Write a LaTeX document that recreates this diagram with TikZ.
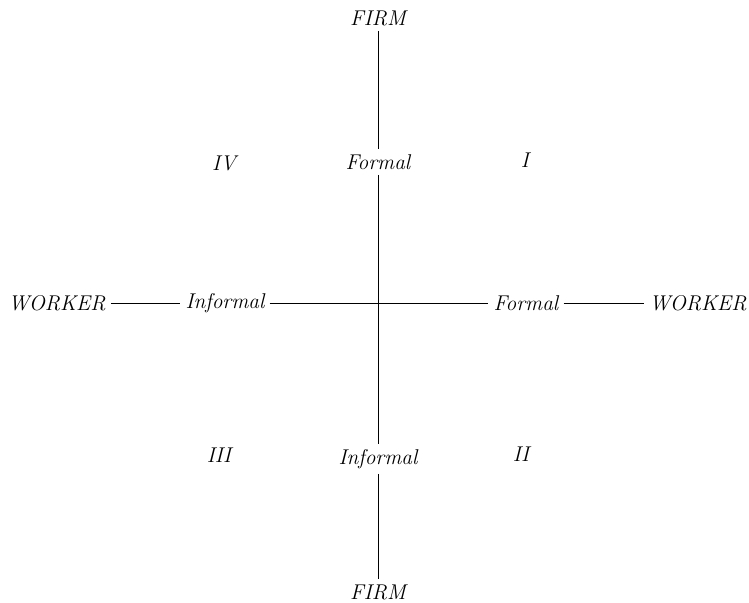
\documentclass[tikz,border=0pt]{standalone}
\usepackage{tikz}
\usetikzlibrary{positioning}
\tikzset
{
    axislabel/.style={font=\fontsize{11}{13}\selectfont\itshape, inner sep=2.5pt}, % labels on the axes
    quadrant/.style={font=\fontsize{11}{13}\selectfont\itshape}, % roman numerals of the quadrants
    axisline/.style={thin, black},
}

\begin{document}
\begin{tikzpicture}[x=0.515pt, y=-0.515pt]
    \useasboundingbox (0,0) rectangle (749,602);
    % Nodes
    \node[axislabel] (firmtop) at (378,18) {FIRM};
    \node[axislabel] (firmbot) at (378,592) {FIRM};
    \node[axislabel] (ftop) at (378,162) {Formal};
    \node[axislabel] (ibot) at (378,459) {Informal};
    \node[axislabel] (wleft) at (57,303) {WORKER};
    \node[axislabel] (wright) at (698,303) {WORKER};
    \node[axislabel] (ileft) at (225,303) {Informal};
    \node[axislabel] (fright) at (526,303) {Formal};

    % Quadrants
    \node[quadrant] (q1) at (525,160) {I};
    \node[quadrant] (q2) at (521,454) {II};
    \node[quadrant] (q3) at (219,455) {III};
    \node[quadrant] (q4) at (224,163) {IV};

    % Axes
    \draw[axisline] (firmtop) -- (ftop);
    \draw[axisline] (ftop) -- (ibot);
    \draw[axisline] (ibot) -- (firmbot);
    \draw[axisline] (wleft) -- (ileft);
    \draw[axisline] (ileft) -- (fright);
    \draw[axisline] (fright) -- (wright);
\end{tikzpicture}
\end{document}
